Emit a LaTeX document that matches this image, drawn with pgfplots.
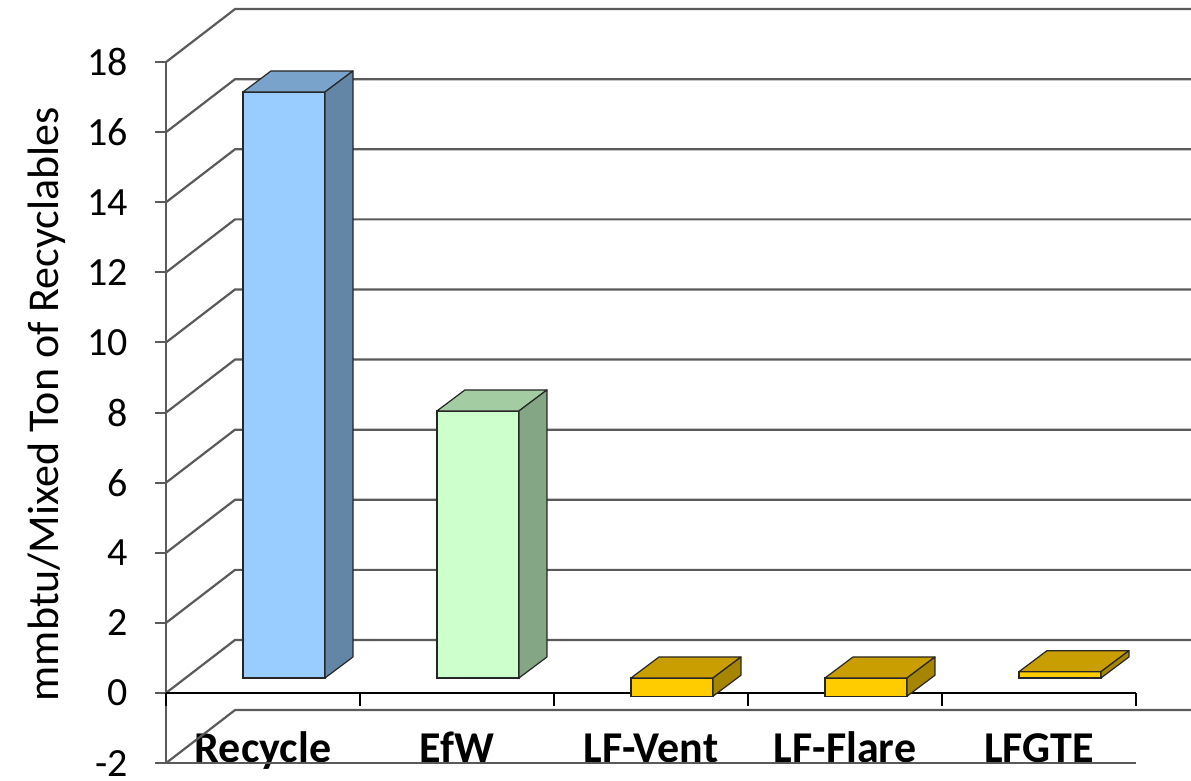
\documentclass[border=0pt]{standalone}
\usepackage{fontspec}
\setmainfont{Carlito}
\usepackage{pgfplots}
\usepackage{pgfplotstable}
\pgfplotsset{compat=1.18}
\definecolor{recF}{RGB}{153,204,255}
\definecolor{recT}{RGB}{122,163,204}
\definecolor{recS}{RGB}{99,133,166}
\definecolor{efwF}{RGB}{204,255,204}
\definecolor{efwT}{RGB}{163,204,163}
\definecolor{efwS}{RGB}{133,166,133}
\definecolor{lfF}{RGB}{255,204,0}
\definecolor{lfT}{RGB}{200,158,0}
\definecolor{lfS}{RGB}{166,133,0}
\definecolor{gridc}{RGB}{90,90,90}
\definecolor{baredge}{RGB}{38,38,38}

\pgfplotstableread{
x v
0 16.72
}\recycle
\pgfplotstableread{
x v
1 7.62
}\efw
\pgfplotstableread{
x v
2 -0.52
3 -0.52
4 0.18
}\landfill

\pgfdeclareplotmark{barfaces}{%
  \pgfmathsetmacro\h{\val*17.525}%
  \pgfmathsetmacro\ty{max(0,-\h)}%
  \pgfmathsetmacro\by{min(0,-\h)}%
  \pgfmathsetmacro\tyb{\ty+10.5}%
  \pgfmathsetmacro\byb{\by+10.5}%
  \filldraw[fill=\topcol, draw=baredge, line width=0.6pt, line join=round]
    (-20.5pt,\ty pt) -- (20.5pt,\ty pt) -- (34.5pt,\tyb pt) -- (-6.5pt,\tyb pt) -- cycle;
  \filldraw[fill=\sidecol, draw=baredge, line width=0.6pt, line join=round]
    (20.5pt,\by pt) -- (20.5pt,\ty pt) -- (34.5pt,\tyb pt) -- (34.5pt,\byb pt) -- cycle;
}

\pgfplotsset{
  front/.style={ybar, bar width=41pt, fill=#1, draw=baredge, line width=0.6pt},
  faces/.style 2 args={only marks, scatter, mark=barfaces,
    scatter/@pre marker code/.code={}, scatter/@post marker code/.code={},
    visualization depends on={\thisrow{v} \as \val},
    visualization depends on={value #1 \as \topcol},
    visualization depends on={value #2 \as \sidecol}},
}

\begin{document}
\begin{tikzpicture}
\path[use as bounding box] (0,0) rectangle (595.5pt,390.5pt);
\begin{axis}[at={(83pt,8.95pt)}, anchor=south west, scale only axis,
  width=485pt, height=350.5pt,
  xmin=-0.5, xmax=4.5, ymin=-2, ymax=18, clip=false,
  axis line style={draw=none},
  xtick={0,...,4}, xticklabels={Recycle,EfW,LF-Vent,LF-Flare,LFGTE},
  xtick style={draw=none},
  xticklabel style={font=\fontsize{22}{23}\selectfont\bfseries, anchor=base, yshift=6pt},
  ytick={-2,0,...,18}, yticklabels={-2,0,2,4,6,8,10,12,14,16,18},
  ytick pos=left, tick align=outside, major tick length=5.5pt,
  ytick style={draw=gridc, line width=1pt},
  yticklabel style={font=\fontsize{20}{21}\selectfont, anchor=east, xshift=-10pt},
  ylabel={mmbtu/Mixed Ton of Recyclables},
  ylabel style={font=\fontsize{22}{23}\selectfont, at={(axis description cs:-0.1227,0.512)}, anchor=center},
]
\pgfplotsinvokeforeach{-2,0,...,18}{\draw[gridc, line width=1.1pt] (axis cs:-0.5,#1) -- ++(34.5pt,26.5pt) -- ++(520pt,0pt);}
\draw[gridc, line width=1pt] (axis cs:-0.5,-2) -- (axis cs:-0.5,18);
\draw[gridc, line width=1pt] (axis cs:-0.5,-2) -- (axis cs:4.5,-2);
\draw[black, line width=1.1pt] (axis cs:-0.5,0) -- (axis cs:4.5,0);
\pgfplotsinvokeforeach{-0.5,0.5,...,4.5}{\draw[black, line width=1.1pt] (axis cs:#1,0) -- ++(0pt,-6.5pt);}
\end{axis}
\begin{axis}[at={(93.5pt,16.45pt)}, anchor=south west, scale only axis,
  width=485pt, height=350.5pt,
  xmin=-0.5, xmax=4.5, ymin=-2, ymax=18, clip=false, hide axis]
\addplot[front=recF] table[x=x, y=v] {\recycle};
\addplot[faces={recT}{recS}] table[x=x, y=v] {\recycle};
\addplot[front=efwF] table[x=x, y=v] {\efw};
\addplot[faces={efwT}{efwS}] table[x=x, y=v] {\efw};
\addplot[front=lfF] table[x=x, y=v] {\landfill};
\addplot[faces={lfT}{lfS}] table[x=x, y=v] {\landfill};
\end{axis}
\end{tikzpicture}
\end{document}
